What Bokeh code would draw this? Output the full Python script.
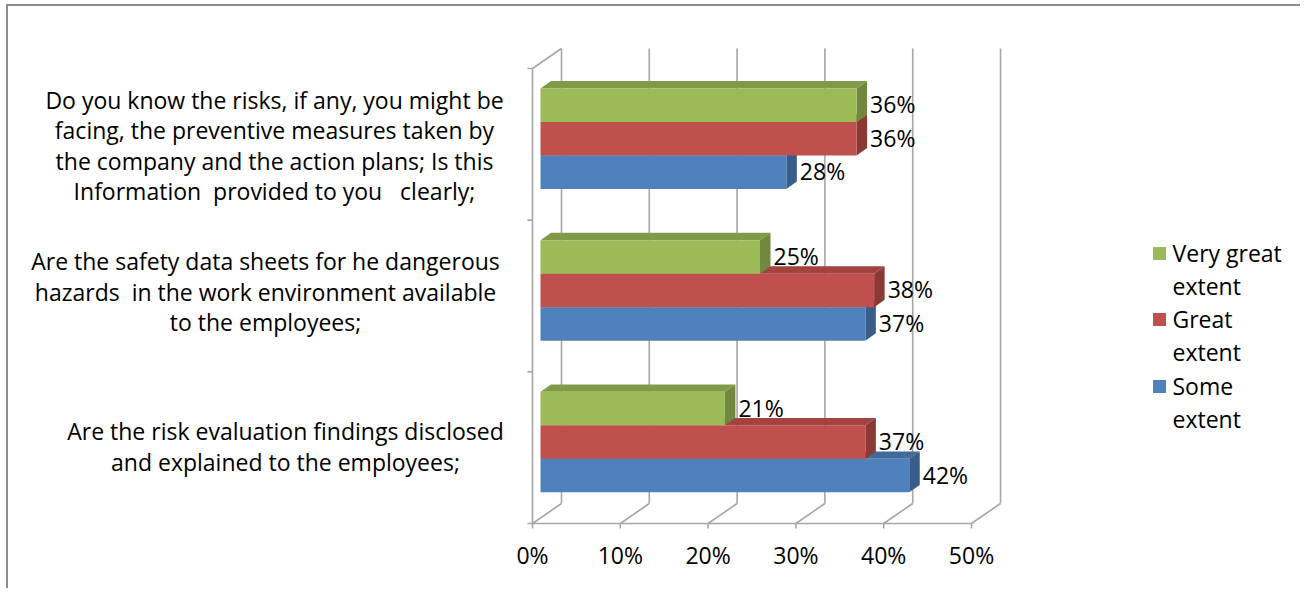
from bokeh.plotting import figure
from bokeh.models import FixedTicker, Range1d
from bokeh.core.properties import value
from bokeh.embed import file_html
from bokeh.resources import INLINE

# ---------------- data ----------------
# categories from bottom to top (as drawn)
categories = [
    ["Are the risk evaluation findings disclosed", "and explained to the employees;"],
    ["Are the safety data sheets for he dangerous", "hazards  in the work environment available", "to the employees;"],
    ["Do you know the risks, if any, you might be", "facing, the preventive measures taken by",
     "the company and the action plans; Is this", "Information  provided to you   clearly;"],
]
series_names = ["Some extent", "Great extent", "Very great extent"]
some_extent = [42, 37, 28]
great_extent = [37, 38, 36]
very_great_extent = [21, 25, 36]
tick_values = [0, 10, 20, 30, 40, 50]
tick_labels = ["0%", "10%", "20%", "30%", "40%", "50%"]

# ---------------- styling / geometry ----------------
FONT = "Open Sans"
FS = "23px"
W, H = 1294, 584
CX0, CY0 = 8, 6              # page position of canvas
KX = 8.78                    # px per percent
KY = 151.67                  # px per category
X0PX, Y0PX = 532, 523        # page px of origin (front)
FRAME_BOTTOM_PX = 531
BOTTOM = CY0 + H - FRAME_BOTTOM_PX

def xd(px):
    return (px - X0PX) / KX

def yd(py):
    return (Y0PX - py) / KY

def keep_spaces(s):
    # keep repeated spaces visible in SVG text
    return s.replace("  ", " \u00a0")

p = figure(width=W, height=H, output_backend="svg", toolbar_location=None,
           x_range=Range1d(xd(CX0), xd(CX0 + W)),
           y_range=Range1d(yd(FRAME_BOTTOM_PX), yd(CY0)),
           y_axis_location=None, min_border_left=0, min_border_right=0,
           min_border_top=0, min_border_bottom=BOTTOM,
           styles={"margin-left": "6px", "margin-top": "4px",
                   "border-top": "2px solid #8c8c8c", "border-left": "2px solid #8c8c8c"})
p.xgrid.visible = False
p.ygrid.visible = False
p.outline_line_color = None
p.background_fill_color = "white"
p.border_fill_color = "white"

ax = p.xaxis[0]
ax.ticker = FixedTicker(ticks=tick_values)
ax.major_label_overrides = {v: l for v, l in zip(tick_values, tick_labels)}
ax.axis_line_color = None
ax.major_tick_line_color = None
ax.minor_tick_line_color = None
ax.major_label_standoff = 1
ax.major_label_text_font = FONT
ax.major_label_text_font_size = FS
ax.major_label_text_color = "black"

# ---------------- walls / gridlines ----------------
GRID = "#a6a6a6"
DXW, DYW = 29 / KX, 20 / KY
ncat = len(categories)
vmax = tick_values[-1]

# back wall verticals
p.segment(x0=[v + DXW for v in tick_values], y0=[DYW] * len(tick_values),
          x1=[v + DXW for v in tick_values], y1=[ncat + DYW] * len(tick_values),
          line_color=GRID, line_width=1.6)
# floor diagonals
p.segment(x0=tick_values, y0=[0] * len(tick_values),
          x1=[v + DXW for v in tick_values], y1=[DYW] * len(tick_values),
          line_color=GRID, line_width=1.6)
# floor front edge and left wall
p.segment(x0=[0, 0, 0], y0=[0, 0, ncat], x1=[vmax, 0, DXW], y1=[0, ncat, ncat + DYW],
          line_color=GRID, line_width=1.6)
# left ticks
p.segment(x0=[-5 / KX] * (ncat + 1), y0=list(range(ncat + 1)),
          x1=[0] * (ncat + 1), y1=list(range(ncat + 1)), line_color=GRID, line_width=1.6)
# bottom ticks
p.segment(x0=tick_values, y0=[0] * len(tick_values), x1=tick_values,
          y1=[-5 / KY] * len(tick_values), line_color=GRID, line_width=1.6)

# ---------------- 3D bars ----------------
BH = 33.5 / KY
F0 = (8 / KX, 5.6 / KY)
F1 = (18.5 / KX, 13 / KY)
styles = [
    (some_extent, -BH, "#4F81BD", "#416A9B", "#385D8A"),
    (great_extent, 0.0, "#C0504D", "#A24340", "#8C3835"),
    (very_great_extent, BH, "#9BBB59", "#7F9B47", "#71893F"),
]
for vals, off, cf, ct, cs in styles:
    cy = [i + 0.5 + off + F0[1] for i in range(ncat)]
    left = [F0[0]] * ncat
    right = [v + F0[0] for v in vals]
    top = [c + BH / 2 for c in cy]
    bot = [c - BH / 2 for c in cy]
    txs, tys, sxs, sys_ = [], [], [], []
    for l, r, t, b in zip(left, right, top, bot):
        ddx, ddy = F1[0] - F0[0], F1[1] - F0[1]
        txs.append([l, r, r + ddx, l + ddx])
        tys.append([t, t, t + ddy, t + ddy])
        sxs.append([r, r, r + ddx, r + ddx])
        sys_.append([b, t, t + ddy, b + ddy])
    p.patches(txs, tys, fill_color=ct, line_color=None)
    p.patches(sxs, sys_, fill_color=cs, line_color=None)
    p.quad(left=left, right=right, top=top, bottom=bot, fill_color=cf, line_color=None)
    # data labels
    p.text(x=[v + F1[0] + 3 / KX for v in vals], y=[c + 1 / KY for c in cy],
           text=[f"{v}%" for v in vals], text_font=value(FONT), text_font_size=FS,
           text_color="black", text_align="left", text_baseline="middle")

# ---------------- category labels ----------------
label_cx = [285, 265, 274]   # page px centers
label_cy = [446, 291, 145]   # page px centers of text blocks
LINE = 30.5
for i, lines in enumerate(categories):
    n = len(lines)
    ys = [yd(label_cy[i] - ((n - 1) / 2 - k) * LINE) for k in range(n)]
    p.text(x=[xd(label_cx[i])] * n, y=ys, text=[keep_spaces(s) for s in lines],
           text_font=value(FONT), text_font_size=FS, text_color="black",
           text_align="center", text_baseline="middle")

# ---------------- legend ----------------
leg_colors = ["#9BBB59", "#C0504D", "#4F81BD"]
leg_lines = [["Very great", "extent"], ["Great", "extent"], ["Some", "extent"]]
leg_y0 = [252, 318, 385]
p.rect(x=[xd(1159)] * 3, y=[yd(v + 1) for v in leg_y0], width=13 / KX, height=13 / KY,
       fill_color=leg_colors, line_color=None)
lx, ly, lt = [], [], []
for y0, ll in zip(leg_y0, leg_lines):
    for k, t in enumerate(ll):
        lx.append(xd(1172))
        ly.append(yd(y0 + 33 * k))
        lt.append(t)
p.text(x=lx, y=ly, text=lt, text_font=value(FONT), text_font_size=FS,
       text_color="black", text_align="left", text_baseline="middle")

open("out.html", "w").write(file_html(p, INLINE))
